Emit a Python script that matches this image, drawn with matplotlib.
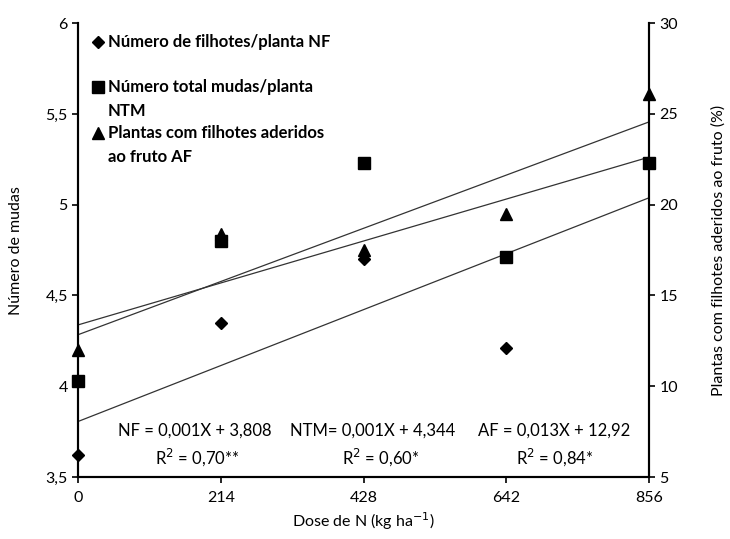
import numpy as np
import matplotlib.pyplot as plt

plt.rcParams['font.family'] = ['Lato', 'DejaVu Sans']

# Dose de N (kg/ha)
doses = [0, 214, 428, 642, 856]
# Número de filhotes/planta (NF) - eixo esquerdo
nf = [3.62, 4.35, 4.70, 4.21, 5.23]
# Número total de mudas/planta (NTM) - eixo esquerdo
ntm = [4.03, 4.80, 5.23, 4.71, 5.23]
# Plantas com filhotes aderidos ao fruto (%) (AF) - eixo direito
af = [12.0, 18.4, 17.5, 19.5, 26.1]

left_ticks = [3.5, 4, 4.5, 5, 5.5, 6]
left_labels = ['3,5', '4', '4,5', '5', '5,5', '6']
right_ticks = [5, 10, 15, 20, 25, 30]

fig = plt.figure(figsize=(7.3, 5.39), dpi=100)
ax = fig.add_axes([0.107, 0.115, 0.782, 0.842])
ax2 = ax.twinx()

x = np.array(doses)
xx = np.array([0, 856])

# regression lines
for y, a in [(nf, ax), (ntm, ax), (af, ax2)]:
    k, b = np.polyfit(x, y, 1)
    a.plot(xx, k * xx + b, color='#333333', lw=0.9, zorder=2)

ax.plot(x, nf, 'D', color='black', ms=6, ls='none', clip_on=False, zorder=5)
ax.plot(x, ntm, 's', color='black', ms=9, ls='none', clip_on=False, zorder=5)
ax2.plot(x, af, '^', color='black', ms=8, ls='none', clip_on=False, zorder=5)

ax.set_xlim(0, 856)
ax.set_ylim(3.5, 6)
ax2.set_ylim(5, 30)
ax.set_xticks(doses)
ax.set_yticks(left_ticks)
ax.set_yticklabels(left_labels)
ax2.set_yticks(right_ticks)

for a in (ax, ax2):
    a.spines['top'].set_visible(False)
    for s in ('left', 'right', 'bottom'):
        a.spines[s].set_linewidth(1.5)
    a.tick_params(labelsize=11.5, width=1.2, length=4, colors='black')
ax.tick_params(axis='x', pad=6)

ax.set_xlabel('Dose de N (kg ha$^{-1}$)', fontsize=11.5)
ax.set_ylabel('Número de mudas', fontsize=11.5, labelpad=16)
ax2.set_ylabel('Plantas com filhotes aderidos ao fruto (%)', fontsize=11.5, labelpad=24)

# legend (manual)
fs = 12
leg = [('D', 6, 0.958, ['Número de filhotes/planta NF']),
       ('s', 8, 0.859, ['Número total mudas/planta', 'NTM']),
       ('^', 8, 0.758, ['Plantas com filhotes aderidos', 'ao fruto AF'])]
for m, ms, yy, lines in leg:
    ax.plot([0.035], [yy], m, color='black', ms=ms, transform=ax.transAxes, clip_on=False)
    for i, t in enumerate(lines):
        ax.text(0.052, yy - i * 0.053, t, transform=ax.transAxes, fontsize=fs,
                fontweight='bold', va='center', ha='left')

# equations
ax.text(0.07, 0.103, 'NF = 0,001X + 3,808', transform=ax.transAxes, fontsize=fs, va='center')
ax.text(0.208, 0.044, 'R$^2$ = 0,70**', transform=ax.transAxes, fontsize=fs, ha='center', va='center')
ax.text(0.372, 0.103, 'NTM= 0,001X + 4,344', transform=ax.transAxes, fontsize=fs, va='center')
ax.text(0.53, 0.044, 'R$^2$ = 0,60*', transform=ax.transAxes, fontsize=fs, ha='center', va='center')
ax.text(0.70, 0.103, 'AF = 0,013X + 12,92', transform=ax.transAxes, fontsize=fs, va='center')
ax.text(0.835, 0.044, 'R$^2$ = 0,84*', transform=ax.transAxes, fontsize=fs, ha='center', va='center')

fig.savefig('out.png', dpi=100)
